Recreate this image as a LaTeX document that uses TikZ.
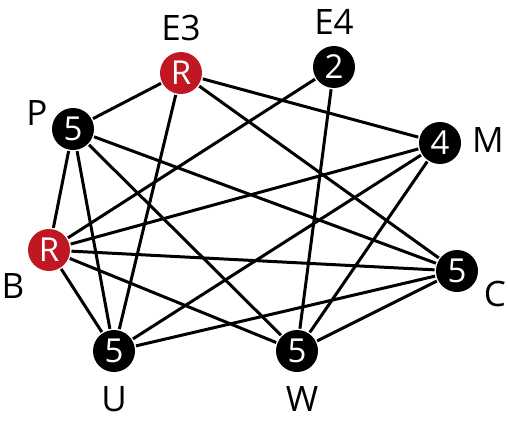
\documentclass[tikz,border=0pt]{standalone}
\usepackage{fontspec}
\setmainfont{Open Sans}
\usepackage{tikz}
\usetikzlibrary{positioning}
\definecolor{rred}{RGB}{192,24,34}

\begin{document}
\begin{tikzpicture}[x=1pt,y=-1pt,
  vtx/.style={circle,fill=black,text=white,inner sep=0pt,minimum size=42pt,font=\fontsize{33}{36}\selectfont},
  rvtx/.style={vtx,fill=rred},
  lbl/.style={inner sep=0pt,font=\fontsize{35}{40}\selectfont},
  every path/.style={line width=3pt}]
\useasboundingbox (0,0) rectangle (508,428);
% vertices
\node[rvtx] (E3) at (181,73) {R};
\node[vtx] (E4) at (334,67) {2};
\node[vtx] (P) at (73,129) {5};
\node[vtx] (M) at (440,143) {4};
\node[rvtx] (B) at (49,250) {R};
\node[vtx] (C) at (457,271) {5};
\node[vtx] (U) at (114,351) {5};
\node[vtx] (W) at (297,351) {5};
% names
\node[lbl] (E3l) at (181,28) {E3};
\node[lbl] (E4l) at (334,22) {E4};
\node[lbl] (Pl) at (37,113) {P};
\node[lbl] (Ml) at (488,140) {M};
\node[lbl] (Bl) at (13,286) {B};
\node[lbl] (Cl) at (495,294) {C};
\node[lbl] (Ul) at (114,399) {U};
\node[lbl] (Wl) at (302,399) {W};
% edges
\draw (E3) -- (P);
\draw (E3) -- (U);
\draw (E3) -- (M);
\draw (E3) -- (C);
\draw (E4) -- (B);
\draw (E4) -- (W);
\draw (P) -- (C);
\draw (P) -- (W);
\draw (P) -- (U);
\draw (P) -- (B);
\draw (M) -- (B);
\draw (M) -- (U);
\draw (M) -- (W);
\draw (B) -- (C);
\draw (B) -- (W);
\draw (B) -- (U);
\draw (C) -- (U);
\draw (C) -- (W);
\end{tikzpicture}
\end{document}
